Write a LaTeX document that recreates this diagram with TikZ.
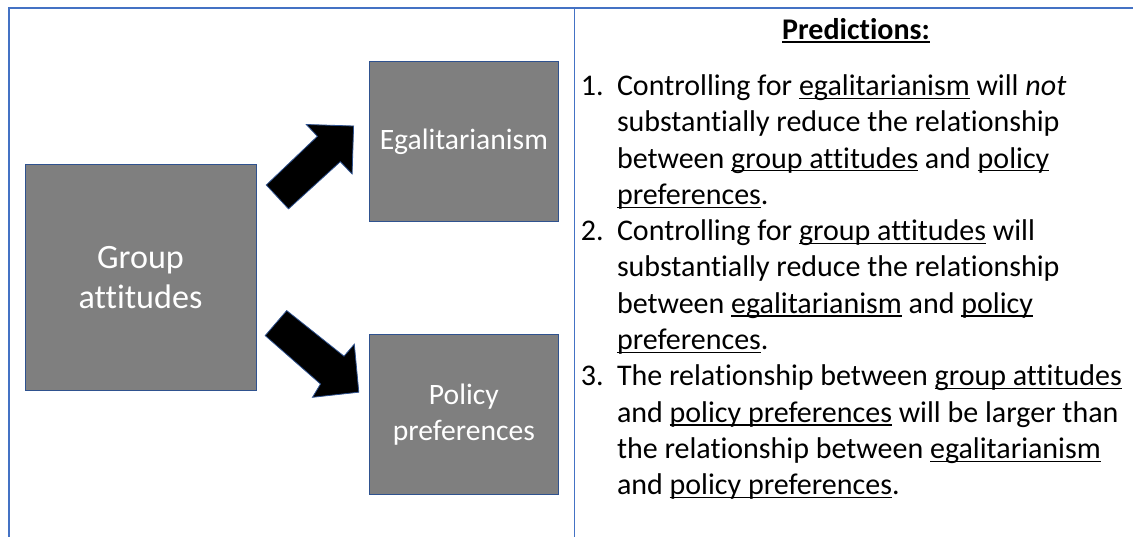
\documentclass[tikz,border=0pt]{standalone}
\usepackage{fontspec}
\setmainfont{Carlito}[Ligatures={NoCommon,NoContextual}]
\definecolor{tableblue}{HTML}{4472C4}
\definecolor{edgeblue}{HTML}{2F528F}
\definecolor{boxgray}{HTML}{7F7F7F}
\newcommand\undl[1]{\setbox0\hbox{#1}\rlap{\rule[-3.3pt]{\wd0}{1.1pt}}\box0\relax}
\tikzset{
  varbox/.style={draw=edgeblue, line width=0.9pt, fill=boxgray, text=white, align=center, inner sep=0pt},
  blockarrow/.style={fill=black, draw=edgeblue, line width=0.8pt, line join=miter},
  rule/.style={draw=tableblue, line width=1.2pt},
  txt/.style={anchor=base west, inner sep=0pt, font=\fontsize{30}{36.3}\selectfont},
}
\begin{document}
\begin{tikzpicture}[x=1pt,y=-1pt]
\useasboundingbox (0,0) rectangle (1133,537);
\fill[white] (0,0) rectangle (1133,537);
% table lines
\coordinate (tl) at (9,8);
\coordinate (tr) at (1133,8);
\coordinate (bl) at (9,537);
\coordinate (dt) at (574.5,8);
\coordinate (db) at (574.5,537);
\draw[rule] (tr) -- (tl) -- (bl);
\draw[rule] (dt) -- (db);
% boxes
\node[varbox, minimum width=231pt, minimum height=226pt, font=\fontsize{34.1}{40.4}\selectfont] (grp) at (140.5,277.4) {Group\\attitudes};
\node[varbox, minimum width=189.7pt, minimum height=160pt, font=\fontsize{29.6}{36}\selectfont] (egal) at (463.85,141.7) {Egalitarianism};
\node[varbox, minimum width=189.7pt, minimum height=160.3pt, font=\fontsize{29.6}{36}\selectfont] (pol) at (463.85,414.2) {Policy\\preferences};
% block arrows
\filldraw[blockarrow] (266.3,185) -- (317.4,136.3) -- (306.3,124.5) -- (353.6,126) -- (352.1,174) -- (340.3,161.7) -- (288.5,208.9) -- cycle;
\filldraw[blockarrow] (286.7,310.6) -- (344,356.2) -- (354.3,344.2) -- (358.8,392.2) -- (312.5,397.3) -- (320.5,384) -- (265.2,335.6) -- cycle;
% right panel
\node[anchor=base west, inner sep=0pt, font=\fontsize{30}{36}\selectfont\bfseries] (title) at (782,39.3) {\undl{Predictions:}};
\node[txt] (n1) at (580.6,95.5) {1.};
\node[txt] (l1) at (616.8,95.5) {Controlling for \undl{egalitarianism} will \textit{not}};
\node[txt] (l2) at (616.8,131.8) {substantially reduce the relationship};
\node[txt] (l3) at (616.8,168.1) {between \undl{group attitudes} and \undl{policy}};
\node[txt] (l4) at (616.8,204.4) {\undl{preferences}.};
\node[txt] (n2) at (580.6,240.7) {2.};
\node[txt] (l5) at (616.8,240.7) {Controlling for \undl{group attitudes} will};
\node[txt] (l6) at (616.8,277) {substantially reduce the relationship};
\node[txt] (l7) at (616.8,313.3) {between \undl{egalitarianism} and \undl{policy}};
\node[txt] (l8) at (616.8,349.6) {\undl{preferences}.};
\node[txt] (n3) at (580.6,385.9) {3.};
\node[txt] (l9) at (616.8,385.9) {The relationship between \undl{group attitudes}};
\node[txt] (l10) at (616.8,422.2) {and \undl{policy preferences} will be larger than};
\node[txt] (l11) at (616.8,458.5) {the relationship between \undl{egalitarianism}};
\node[txt] (l12) at (616.8,494.8) {and \undl{policy preferences}.};
\end{tikzpicture}
\end{document}
